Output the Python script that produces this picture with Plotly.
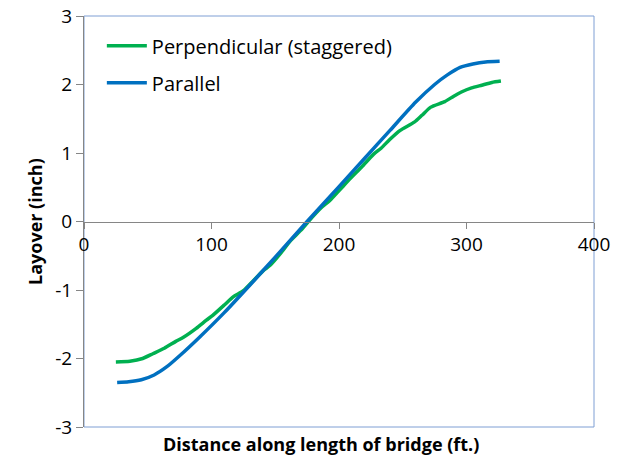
import plotly.graph_objects as go

# ---- data ----
parallel_x = [26, 35, 45, 55, 65, 75, 90, 110, 130, 150, 175, 200, 220, 240, 260, 275, 285, 295, 305, 315, 326]
parallel_y = [-2.35, -2.34, -2.31, -2.24, -2.12, -1.96, -1.70, -1.33, -0.93, -0.52, 0.0,
              0.51, 0.92, 1.33, 1.74, 2.0, 2.14, 2.25, 2.30, 2.33, 2.34]

perp_x = [25, 36, 46, 54, 63, 72, 78, 88, 96, 101, 110, 117, 125, 133, 141, 146, 154, 162, 170,
          176, 186, 193, 201, 209, 218, 227, 233, 240, 248, 259, 265, 272, 283, 290, 296, 304, 312, 320, 327]
perp_y = [-2.05, -2.04, -2.00, -1.93, -1.85, -1.75, -1.69, -1.56, -1.44, -1.37, -1.22, -1.10, -1.01,
          -0.86, -0.71, -0.64, -0.47, -0.28, -0.13, 0.0, 0.20, 0.31, 0.47, 0.63, 0.80, 0.98, 1.07,
          1.20, 1.33, 1.45, 1.55, 1.67, 1.75, 1.83, 1.89, 1.95, 1.99, 2.03, 2.05]

x_tickvals = [0, 100, 200, 300, 400]
x_ticktext = ["0", "100", "200", "300", "400"]
y_tickvals = [-3, -2, -1, 0, 1, 2, 3]
y_ticktext = ["-3", "-2", "-1", "0", "1", "2", "3"]

FONT = "Open Sans"
GRAY = "#868686"

fig = go.Figure()
fig.add_trace(go.Scatter(x=perp_x, y=perp_y, mode="lines", name="Perpendicular (staggered)",
                         line=dict(color="#00B050", width=3.5, shape="spline", smoothing=0.6),
                         legendgroup="a"))
fig.add_trace(go.Scatter(x=parallel_x, y=parallel_y, mode="lines", name="Parallel",
                         line=dict(color="#0070C0", width=3.5, shape="spline", smoothing=0.6),
                         legendgroup="b"))

# page body has an 8px default margin, so the figure is sized to fit the window
fig.update_layout(
    width=614, height=452,
    margin=dict(l=76, r=28, t=8, b=33, autoexpand=False),
    paper_bgcolor="white", plot_bgcolor="white",
    font=dict(family=FONT, size=19, color="black"),
    showlegend=True,
    legend=dict(x=0.035, y=0.975, xanchor="left", yanchor="top", bgcolor="rgba(0,0,0,0)",
                font=dict(family=FONT, size=20), tracegroupgap=8, traceorder="grouped",
                itemwidth=40),
    xaxis=dict(range=[0, 400], tickvals=x_tickvals, ticktext=x_ticktext,
               anchor="free", position=0.5, showline=True, linecolor=GRAY, linewidth=1,
               ticks="outside", ticklen=6, tickcolor=GRAY, showgrid=False, zeroline=False,
               automargin=False, ticklabeloverflow="allow",
               tickfont=dict(family=FONT, size=19)),
    yaxis=dict(range=[-3, 3], tickvals=y_tickvals, ticktext=y_ticktext,
               showline=True, linecolor=GRAY, linewidth=1, ticks="outside", ticklen=7,
               tickcolor=GRAY, showgrid=False, zeroline=False, automargin=False,
               ticklabeloverflow="allow", tickfont=dict(family=FONT, size=19)),
    shapes=[dict(type="rect", xref="paper", yref="paper", x0=0, y0=0, x1=1, y1=1,
                 line=dict(color="#7F9FD4", width=1), layer="below")],
    annotations=[
        dict(text="<b>Distance along length of bridge (ft.)</b>", xref="paper", yref="paper",
             x=0.465, y=-0.041, xanchor="center", yanchor="middle", showarrow=False,
             font=dict(family=FONT, size=18)),
        dict(text="<b>Layover (inch)</b>", xref="paper", yref="paper", textangle=-90,
             x=-0.097, y=0.5, xanchor="center", yanchor="middle", showarrow=False,
             font=dict(family=FONT, size=18)),
    ],
)

fig.write_html("out.html")
